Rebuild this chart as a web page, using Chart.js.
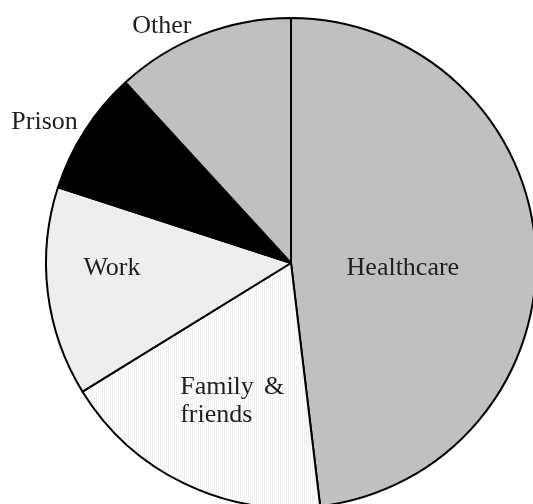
<!DOCTYPE html>
<html>
<head>
<meta charset="utf-8">
<script src="https://cdn.jsdelivr.net/npm/chart.js@4/dist/chart.umd.min.js"></script>
<style>
html,body{margin:0;padding:0;background:#fff;overflow:hidden;}
#wrap{width:540px;height:512px;}
</style>
</head>
<body>
<div id="wrap"><canvas id="c" width="540" height="512"></canvas></div>
<script>
// Data (clockwise from 12 o'clock)
const categories = ["Healthcare", "Family & friends", "Work", "Prison", "Other"];
const shares = [48.1, 18.1, 13.8, 8.2, 11.8];
const labelLines = [["Healthcare"], ["Family &", "friends"], ["Work"], ["Prison"], ["Other"]];

// Fine vertical-line pattern for "Family & friends"
function makePattern() {
  const p = document.createElement('canvas');
  p.width = 2; p.height = 2;
  const g = p.getContext('2d');
  g.fillStyle = '#ffffff'; g.fillRect(0, 0, 2, 2);
  g.fillStyle = '#f0f0f0'; g.fillRect(0, 0, 1, 2);
  return g.createPattern(p, 'repeat');
}
const ctx = document.getElementById('c').getContext('2d');
const fills = ['#c0c0c0', makePattern(), '#eeeeee', '#000000', '#c0c0c0'];

// label placement: angle (deg, clockwise from top), distance as fraction of radius, optional justified width
const labelPlace = [
  {a: 92.6, r: 0.457},
  {a: 203.1, r: 0.612, justify: 104},
  {a: 268.4, r: 0.731},
  {a: 299.8, r: 1.159},
  {a: 331.4, r: 1.102}
];

const labelPlugin = {
  id: 'sliceLabels',
  afterDatasetsDraw(chart) {
    const meta = chart.getDatasetMeta(0);
    const arc0 = meta.data[0];
    const cx = arc0.x, cy = arc0.y, R = arc0.outerRadius;
    const c = chart.ctx;
    c.save();
    c.font = '26px "Liberation Serif", "DejaVu Serif", serif';
    c.fillStyle = '#1e1e1e';
    c.textBaseline = 'middle';
    labelLines.forEach((lines, i) => {
      const pl = labelPlace[i];
      const th = pl.a * Math.PI / 180;
      const x = cx + Math.sin(th) * pl.r * R;
      const y = cy - Math.cos(th) * pl.r * R;
      const lh = 28;
      lines.forEach((t, k) => {
        const ly = y + (k - (lines.length - 1) / 2) * lh;
        if (pl.justify) {
          const left = x - pl.justify / 2;
          const words = t.split(' ');
          if (words.length > 1) {
            c.textAlign = 'left';
            c.fillText(words[0], left, ly);
            c.textAlign = 'right';
            c.fillText(words[words.length - 1], left + pl.justify, ly);
          } else {
            c.textAlign = 'left';
            c.fillText(t, left, ly);
          }
        } else {
          c.textAlign = 'center';
          c.fillText(t, x, ly);
        }
      });
    });
    c.restore();
  }
};

new Chart(ctx, {
  type: 'pie',
  data: {
    labels: categories,
    datasets: [{
      data: shares,
      backgroundColor: fills,
      borderColor: '#000000',
      borderWidth: 2,
      borderAlign: 'center'
    }]
  },
  options: {
    responsive: false,
    animation: false,
    layout: {padding: {top: 17, bottom: 3, left: 45, right: 3}},
    plugins: {legend: {display: false}, tooltip: {enabled: false}},
    events: []
  },
  plugins: [labelPlugin]
});
</script>
</body>
</html>
